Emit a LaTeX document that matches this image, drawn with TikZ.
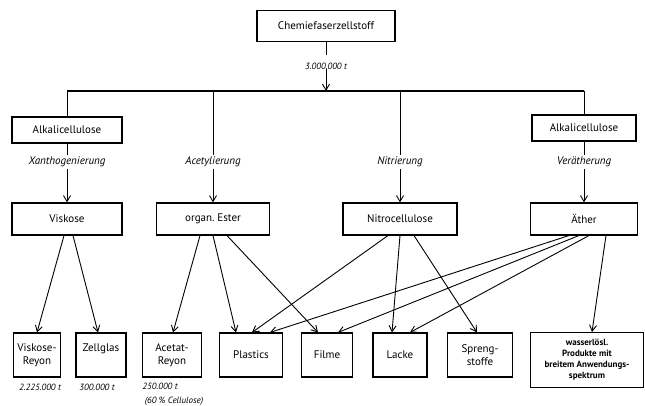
\documentclass[tikz,border=0pt]{standalone}
\usepackage{fontspec}
\setmainfont{PT Sans}
\usetikzlibrary{arrows.meta}
\tikzset{
  box/.style={draw,line width=1.1pt,fill=white,align=center,inner sep=2pt,font=\fontsize{11}{13}\selectfont},
  proc/.style={fill=white,inner sep=2pt,font=\fontsize{11}{13}\selectfont\itshape},
  amount/.style={inner sep=0pt,font=\fontsize{9}{11}\selectfont\itshape},
  pfeil/.style={-{Straight Barb[length=6pt,width=7pt]},line width=0.9pt},
}
\begin{document}
\begin{tikzpicture}[x=1pt,y=-1pt]
    \useasboundingbox (0,0) rectangle (645,406);
    % Ausgangsstoff und Verteilung
    \node[box,minimum width=138,minimum height=31] (zell) at (326,26) {Chemiefaserzellstoff};
    \coordinate (zl) at (326,55);
    \node[amount] (menge) at (326,66) {3.000.000 t};
    \coordinate (bm) at (326,91);
    \coordinate (b1) at (67,91);
    \coordinate (b2) at (213,91);
    \coordinate (b3) at (400,91);
    \coordinate (b4) at (584,91);
    \draw[line width=0.9pt] (zell) -- (zl);
    \draw[pfeil] (menge) -- (bm);
    \draw[line width=2.2pt] (b1) -- (b4);
    % mittlere Ebene
    \node[box,minimum width=110,minimum height=26] (alk1) at (67,130) {Alkalicellulose};
    \node[box,minimum width=104,minimum height=26] (alk2) at (584,128) {Alkalicellulose};
    \node[proc] (xan) at (67,162) {Xanthogenierung};
    \node[proc] (acet) at (213,162) {Acetylierung};
    \node[proc] (nitr) at (400,162) {Nitrierung};
    \node[proc] (veraeth) at (584,162) {Verätherung};
    \node[box,minimum width=110,minimum height=32] (visk) at (67,219) {Viskose};
    \node[box,minimum width=113,minimum height=32] (ester) at (213,219) {organ.\ Ester};
    \node[box,minimum width=114,minimum height=32] (nitro) at (400,219) {Nitrocellulose};
    \node[box,minimum width=107,minimum height=32] (aether) at (584,219) {Äther};
    \draw[line width=0.9pt] (b1) -- (alk1);
    \draw[line width=0.9pt] (b4) -- (alk2);
    \draw[line width=0.9pt] (alk1) -- (xan);
    \draw[pfeil] (xan) -- (visk);
    \draw[line width=0.9pt] (b2) -- (acet);
    \draw[pfeil] (acet) -- (ester);
    \draw[line width=0.9pt] (b3) -- (nitr);
    \draw[pfeil] (nitr) -- (nitro);
    \draw[line width=0.9pt] (alk2) -- (veraeth);
    \draw[pfeil] (veraeth) -- (aether);
    % Endprodukte
    \node[box,minimum width=47,minimum height=44] (vr) at (37,355) {Viskose-\\Reyon};
    \node[box,minimum width=50,minimum height=44] (zg) at (101,355) {Zellglas\\[-2pt]\strut};
    \node[box,minimum width=59,minimum height=44] (acr) at (172,355) {Acetat-\\Reyon};
    \node[box,minimum width=63,minimum height=44] (plast) at (251,355) {Plastics};
    \node[box,minimum width=51,minimum height=44] (filme) at (327,355) {Filme};
    \node[box,minimum width=54,minimum height=44] (lacke) at (400,355) {Lacke};
    \node[box,minimum width=65,minimum height=44] (spreng) at (480,355) {Spreng-\\stoffe};
    \node[box,minimum width=113,minimum height=55,font=\fontsize{9}{11}\selectfont\bfseries] (wasser) at (587,360)
        {wasserlösl.\\Produkte mit\\breitem Anwendungs-\\spektrum};
    \node[amount] (m1) at (40,387) {2.225.000 t};
    \node[amount] (m2) at (97,387) {300.000 t};
    \node[amount] (m3) at (160,386) {250.000 t};
    \node[amount] (m4) at (174,401) {(60 \% Cellulose)};
    \draw[pfeil] ([xshift=-3pt]visk.south) -- (vr.north);
    \draw[pfeil] ([xshift=6pt]visk.south) -- ([xshift=-3pt]zg.north);
    \draw[pfeil] ([xshift=-13pt]ester.south) -- ([xshift=1pt]acr.north);
    \draw[pfeil] (ester.south) -- ([xshift=-15pt]plast.north);
    \draw[pfeil] ([xshift=14pt]ester.south) -- ([xshift=-9pt]filme.north);
    \draw[pfeil] ([xshift=-12pt]nitro.south) -- ([xshift=1pt]plast.north);
    \draw[pfeil] (nitro.south) -- ([xshift=-8pt]lacke.north);
    \draw[pfeil] ([xshift=14pt]nitro.south) -- ([xshift=-3pt]spreng.north);
    \draw[pfeil] ([xshift=-15pt]aether.south) -- ([xshift=19pt]plast.north);
    \draw[pfeil] ([xshift=-5pt]aether.south) -- ([xshift=11pt]filme.north);
    \draw[pfeil] ([xshift=5pt]aether.south) -- ([xshift=10pt]lacke.north);
    \draw[pfeil] ([xshift=22pt]aether.south) -- ([xshift=5pt]wasser.north);
\end{tikzpicture}
\end{document}
